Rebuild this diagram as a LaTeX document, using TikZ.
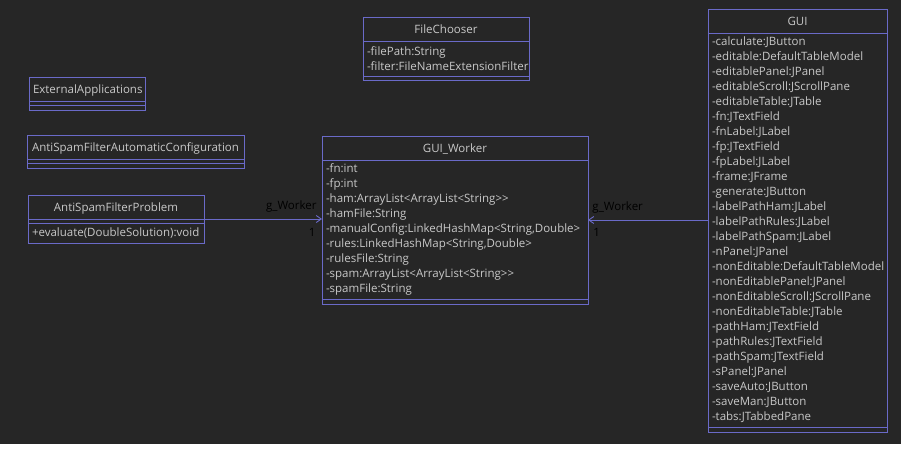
\documentclass[tikz,border=0pt]{standalone}
\usepackage{fontspec}
\setmainfont{Open Sans}[Ligatures=TeXOff]
\usetikzlibrary{arrows.meta,positioning}
\hyphenpenalty=10000
\exhyphenpenalty=10000
\definecolor{canvas}{HTML}{262626}
\definecolor{umlline}{HTML}{6A6AC8}
\definecolor{umltext}{HTML}{C8C8C8}
\tikzset{
    compartment/.style={
        rectangle,
        draw=umlline,
        line width=0.9pt,
        text=umltext,
        outer sep=0pt,
        inner xsep=4pt,
        inner ysep=0pt,
        text width=#1,
        font=\fontsize{11.5}{15}\selectfont,
    },
    classname/.style={
        compartment=#1,
        align=center,
        text depth=0pt,
        minimum height=24pt,
    },
    members/.style={
        compartment=#1,
        align=left,
    },
    assoc/.style={
        draw=umlline,
        line width=0.9pt,
        -{Straight Barb[length=5pt,width=7pt]},
    },
    rolename/.style={
        text=black,
        inner sep=0pt,
        font=\fontsize{11.5}{15}\selectfont,
    },
    x=1pt, y=1pt,
}

\begin{document}
\begin{tikzpicture}
\useasboundingbox (0,0) rectangle (901,-450);
\fill[white] (0,0) rectangle (901,-450);
\fill[canvas] (0,0) rectangle (901,-444);

% FileChooser
\node[classname=158, anchor=north west] (fcname) at (363,-17) {FileChooser};
\node[members=158, minimum height=35pt, below=0pt of fcname] (fcattr) {-filePath:String\\-filter:FileNameExtensionFilter};
\node[members=158, minimum height=4pt, below=0pt of fcattr] (fcops) {};

% ExternalApplications
\node[classname=108, anchor=north west] (extname) at (29,-77) {ExternalApplications};
\node[members=108, minimum height=4pt, below=0pt of extname] (extattr) {};
\node[members=108, minimum height=5pt, below=0pt of extattr] (extops) {};

% AntiSpamFilterAutomaticConfiguration
\node[classname=209, anchor=north west] (autoname) at (27,-135) {AntiSpamFilterAutomaticConfiguration};
\node[members=209, minimum height=4pt, below=0pt of autoname] (autoattr) {};
\node[members=209, minimum height=5pt, below=0pt of autoattr] (autoops) {};

% AntiSpamFilterProblem
\node[classname=168, anchor=north west] (probname) at (28,-195) {AntiSpamFilterProblem};
\node[members=168, minimum height=4pt, below=0pt of probname] (probattr) {};
\node[members=168, minimum height=20pt, below=0pt of probattr] (probops) {+evaluate(DoubleSolution):void};

% GUI_Worker
\node[classname=258, anchor=north west] (workername) at (322,-136) {GUI\_Worker};
\node[members=258, minimum height=139pt, below=0pt of workername] (workerattr) {-fn:int\\-fp:int\\-ham:ArrayList<ArrayList<String>>\\-hamFile:String\\-manualConfig:LinkedHashMap<String,Double>\\-rules:LinkedHashMap<String,Double>\\-rulesFile:String\\-spam:ArrayList<ArrayList<String>>\\-spamFile:String};
\node[members=258, minimum height=5pt, below=0pt of workerattr] (workerops) {};

% GUI
\node[classname=171, anchor=north west] (guiname) at (708,-9) {GUI};
\node[members=171, minimum height=394pt, below=0pt of guiname] (guiattr) {-calculate:JButton\\-editable:DefaultTableModel\\-editablePanel:JPanel\\-editableScroll:JScrollPane\\-editableTable:JTable\\-fn:JTextField\\-fnLabel:JLabel\\-fp:JTextField\\-fpLabel:JLabel\\-frame:JFrame\\-generate:JButton\\-labelPathHam:JLabel\\-labelPathRules:JLabel\\-labelPathSpam:JLabel\\-nPanel:JPanel\\-nonEditable:DefaultTableModel\\-nonEditablePanel:JPanel\\-nonEditableScroll:JScrollPane\\-nonEditableTable:JTable\\-pathHam:JTextField\\-pathRules:JTextField\\-pathSpam:JTextField\\-sPanel:JPanel\\-saveAuto:JButton\\-saveMan:JButton\\-tabs:JTabbedPane};
\node[members=171, minimum height=5pt, below=0pt of guiattr] (guiops) {};

% associations
\coordinate (gwlink) at (0,-220);
\draw[assoc] (probname.south east) -- (probname.south east -| workerattr.west)
    node[rolename, pos=1, anchor=south east, xshift=-5pt, yshift=6pt] {g\_Worker}
    node[rolename, pos=1, anchor=north east, xshift=-6pt, yshift=-9pt] {1};
\draw[assoc] (gwlink -| guiattr.west) -- (gwlink -| workerattr.east)
    node[rolename, pos=1, anchor=south west, xshift=4pt, yshift=6pt] {g\_Worker}
    node[rolename, pos=1, anchor=north west, xshift=5pt, yshift=-8pt] {1};
\end{tikzpicture}
\end{document}
